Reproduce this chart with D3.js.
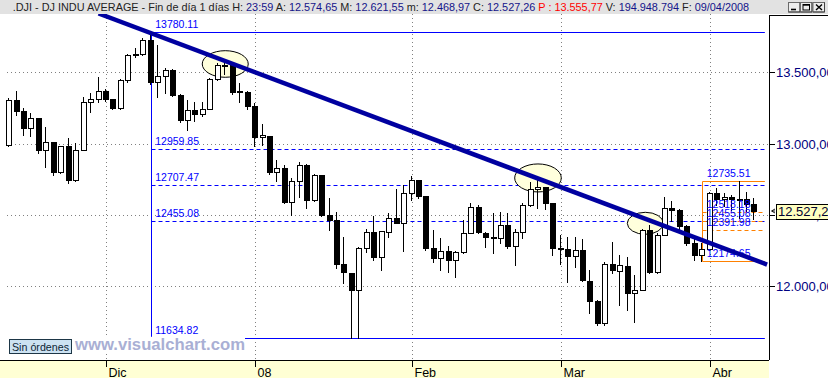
<!DOCTYPE html>
<html><head><meta charset="utf-8">
<script src="https://cdn.jsdelivr.net/npm/d3@7"></script>
<style>html,body{margin:0;padding:0;background:#fff;overflow:hidden}svg{display:block}text{font-family:"Liberation Sans",Arial,sans-serif}</style>
</head><body><svg id="c" width="828" height="378"></svg>
<script>
// ---------------- DATA ----------------
const dates = ["2007-11-13","2007-11-14","2007-11-15","2007-11-16","2007-11-19","2007-11-20","2007-11-21","2007-11-23","2007-11-26","2007-11-27","2007-11-28","2007-11-29","2007-11-30",
"2007-12-03","2007-12-04","2007-12-05","2007-12-06","2007-12-07","2007-12-10","2007-12-11","2007-12-12","2007-12-13","2007-12-14","2007-12-17","2007-12-18","2007-12-19","2007-12-20","2007-12-21","2007-12-24","2007-12-26","2007-12-27","2007-12-28","2007-12-31",
"2008-01-02","2008-01-03","2008-01-04","2008-01-07","2008-01-08","2008-01-09","2008-01-10","2008-01-11","2008-01-14","2008-01-15","2008-01-16","2008-01-17","2008-01-18","2008-01-22","2008-01-23","2008-01-24","2008-01-25","2008-01-28","2008-01-29","2008-01-30","2008-01-31",
"2008-02-01","2008-02-04","2008-02-05","2008-02-06","2008-02-07","2008-02-08","2008-02-11","2008-02-12","2008-02-13","2008-02-14","2008-02-15","2008-02-19","2008-02-20","2008-02-21","2008-02-22","2008-02-25","2008-02-26","2008-02-27","2008-02-28","2008-02-29",
"2008-03-03","2008-03-04","2008-03-05","2008-03-06","2008-03-07","2008-03-10","2008-03-11","2008-03-12","2008-03-13","2008-03-14","2008-03-17","2008-03-18","2008-03-19","2008-03-20","2008-03-24","2008-03-25","2008-03-26","2008-03-27","2008-03-28","2008-03-31",
"2008-04-01","2008-04-02","2008-04-03","2008-04-04","2008-04-07","2008-04-08","2008-04-09"];
const open  = [12987,13307,13231,13110,13176,12958,13010,12799,12980,12743,12958,13290,13314,
13371,13314,13248,13444,13619,13625,13727,13432,13473,13517,13339,13167,13232,13207,13245,13450,13549,13551,13359,13365,
13264,13043,13056,12800,12827,12589,12735,12853,12606,12778,12501,12466,12159,12092,11971,12270,12378,12207,12383,12480,12442,
12650,12743,12635,12265,12200,12247,12182,12240,12373,12552,12376,12348,12337,12427,12284,12381,12570,12684,12694,12582,
12266,12258,12213,12254,12040,11893,11740,12156,12110,12145,11951,11972,12392,12099,12361,12548,12532,12422,12302,12216,
12262,12654,12608,12626,12609,12612,12574.65];
const high  = [13316,13370,13250,13212,13180,13114,13010,12985,13037,13002,13324,13352,13465,
13380,13314,13450,13625,13668,13738,13780.11,13691,13528,13520,13345,13305,13290,13290,13460,13565,13575,13555,13422,13372,
13282,13137,13056,12884,12850,12760,12870,12855,12790,12780,12616,12520,12347,12095,12275,12399,12492,12390,12511,12680,12709,
12773,12745,12635,12394,12336,12282,12250,12464,12581,12570,12382,12511,12523,12511,12400,12581,12733,12756,12694,12582,
12359,12347,12347,12330,12114,11900,12170,12312,12219,12203,12078,12400,12430,12370,12628,12600,12540,12430,12330,12300,
12660,12690,12650,12640,12735.51,12660,12621.55];
const low   = [12980,13200,13060,13053,12936,12838,12780,12795,12721,12735,12955,13223,13293,
13300,13240,13240,13430,13610,13620,13420,13328,13352,13335,13153,13095,13160,13195,13240,13445,13490,13350,13293,13245,
12983,12990,12790,12740,12580,12499,12628,12546,12600,12495,12394,12126,12020,11634.82,11640,12242,12184,12114,12347,12440,12249,
12604,12620,12255,12172,12114,12102,12067,12235,12370,12370,12277,12231,12300,12270,12149,12336,12560,12546,12539,12219,
12156,12032,12137,12035,11810,11725,11730,12090,11868,11833,11751,11970,12090,12090,12360,12460,12400,12290,12185,12174.65,
12255,12570,12560,12534,12480,12530,12468.97];
const close = [13307.09,13231.01,13110.05,13176.79,12958.44,13010.14,12799.04,12980.88,12743.44,12958.44,13289.45,13311.73,13371.72,
13314.57,13248.73,13444.96,13619.89,13625.58,13727.03,13432.77,13473.90,13517.96,13339.85,13167.20,13232.47,13207.27,13245.64,13450.65,13549.33,13551.69,13359.61,13365.87,13264.82,
13043.96,13056.72,12800.18,12827.49,12589.07,12735.31,12853.09,12606.30,12778.15,12501.11,12466.16,12159.21,12099.30,11971.19,12270.17,12378.61,12207.17,12383.89,12480.30,12442.83,12650.36,
12743.19,12635.16,12265.13,12200.10,12247.00,12182.13,12240.01,12373.41,12552.24,12376.98,12348.21,12337.22,12427.26,12284.30,12381.02,12570.22,12684.92,12694.28,12582.18,12266.39,
12258.90,12213.80,12254.99,12040.39,11893.69,11740.15,12156.81,12110.24,12145.74,11951.09,11972.25,12392.66,12099.66,12361.32,12548.64,12532.60,12422.86,12302.46,12216.40,12262.89,
12654.36,12608.92,12626.03,12609.42,12612.43,12576.44,12527.26];

const monthTickDates  = ["2007-12-03","2008-01-02","2008-02-01","2008-03-03","2008-04-01"];
const monthTickLabels = ["Dic","08","Feb","Mar","Abr"];
const yTickValues = [12000,12500,13000,13500];

// Fibonacci tool 1 (Dec 11 high -> Jan 22 low)
const fib1Date = "2007-12-11";
const fib1Levels = [13780.11,12959.85,12707.47,12455.08,11634.82];
// Fibonacci tool 2 (Mar 31 low -> Apr 7 high)
const fib2Date = "2008-03-31";
const fib2Levels = [12735.51,12518.18,12455.08,12391.98,12174.65];
const fibEndIndex = 101.4;

// Trend line anchors [candle index, value]
const trendPoints = [[12, 13912], [101.7, 12152]];
// Ellipse highlights [candle index, value]
const ellipseCenters = [[29.0, 13558], [70.96, 12759], [85.36, 12441]];
const ellipseRadii = [[23, 13.3], [23.3, 14], [18, 11]];

const titleParts = [[".DJI - DJ INDU AVERAGE - Fin de día 1 días H: ","k"],["23:59","b"],[" A: ","k"],["12.574,65","b"],[" M: ","k"],["12.621,55","b"],[" m: ","k"],["12.468,97","b"],[" C: ","k"],["12.527,26","b"],[" P : 13.555,77","r"],[" V: ","k"],["194.948.794","b"],[" F: ","k"],["09/04/2008","b"]];

// ---------------- CHART ----------------
const svg = d3.select("#c");
const W = 828, H = 378, plotR = 769, plotT = 14, plotB = 360;
const n = dates.length;
const x = d3.scaleLinear().domain([0, n - 1]).range([9.11, 754.41]);
const y = d3.scaleLinear().domain([11634.82, 13780.11]).range([338.3, 32.3]);
const di = d => dates.indexOf(d);
const px = v => Math.round(v) + 0.5;
const loc = d3.formatLocale({decimal: ",", thousands: ".", grouping: [3]});
const fmt = loc.format(",.2f");

svg.append("rect").attr("width", W).attr("height", H).attr("fill", "#fff");
const defs = svg.append("defs");
defs.append("clipPath").attr("id", "clip").append("rect").attr("x", 0).attr("y", plotT).attr("width", plotR).attr("height", plotB - plotT);

const plot = svg.append("g").attr("clip-path", "url(#clip)");

// gridlines
plot.append("g").selectAll("line").data(yTickValues).join("line")
  .attr("x1", 7).attr("x2", plotR).attr("y1", d => px(y(d))).attr("y2", d => px(y(d)))
  .attr("stroke", "#808080").attr("stroke-dasharray", "1,3");
plot.append("g").selectAll("line").data(monthTickDates).join("line")
  .attr("x1", d => px(x(di(d)))).attr("x2", d => px(x(di(d))))
  .attr("y1", plotT).attr("y2", plotB)
  .attr("stroke", "#808080").attr("stroke-dasharray", "1,3");

// fib 1 lines
const f1x = x(di(fib1Date)), fEnd = x(fibEndIndex);
plot.append("line").attr("x1", px(f1x)).attr("x2", px(f1x))
  .attr("y1", y(fib1Levels[0])).attr("y2", y(fib1Levels[4]) - 1.5).attr("stroke", "#0000ff");
plot.append("g").selectAll("line").data(fib1Levels).join("line")
  .attr("x1", px(f1x)).attr("x2", fEnd)
  .attr("y1", d => px(y(d))).attr("y2", d => px(y(d)))
  .attr("stroke", "#0000ff")
  .attr("stroke-dasharray", (d, i) => (i === 0 || i === fib1Levels.length - 1) ? null : "4,3");

// fib 2 lines
const f2x = x(di(fib2Date));
plot.append("line").attr("x1", px(f2x)).attr("x2", px(f2x))
  .attr("y1", px(y(fib2Levels[0]))).attr("y2", px(y(fib2Levels[4]))).attr("stroke", "#ff8000");
plot.append("g").selectAll("line").data(fib2Levels).join("line")
  .attr("x1", px(f2x)).attr("x2", fEnd)
  .attr("y1", d => px(y(d))).attr("y2", d => px(y(d)))
  .attr("stroke", "#ff8000")
  .attr("stroke-dasharray", (d, i) => (i === 0 || i === fib2Levels.length - 1) ? null : "4,3");

// ellipses
plot.append("g").selectAll("ellipse").data(ellipseCenters).join("ellipse")
  .attr("cx", d => x(d[0])).attr("cy", d => y(d[1]))
  .attr("rx", (d, i) => ellipseRadii[i][0]).attr("ry", (d, i) => ellipseRadii[i][1])
  .attr("fill", "#ffffdc").attr("stroke", "#000").attr("stroke-width", 1);

// candles
const cg = plot.append("g");
const idx = d3.range(n);
cg.selectAll("line.w").data(idx).join("line").attr("class", "w")
  .attr("x1", i => Math.round(x(i)) - 0.5).attr("x2", i => Math.round(x(i)) - 0.5)
  .attr("y1", i => Math.round(y(high[i]))).attr("y2", i => Math.round(y(low[i])) + 1)
  .attr("stroke", "#000");
cg.selectAll("rect.b").data(idx).join("rect").attr("class", "b")
  .attr("x", i => Math.round(x(i)) - 3 + 0.5)
  .attr("width", 5)
  .attr("y", i => Math.round(y(Math.max(open[i], close[i]))) + 0.5)
  .attr("height", i => Math.max(1, Math.round(y(Math.min(open[i], close[i]))) - Math.round(y(Math.max(open[i], close[i])))))
  .attr("fill", i => close[i] >= open[i] ? "#fff" : "#000")
  .attr("stroke", "#000");

// fib labels
plot.append("g").selectAll("text").data(fib1Levels).join("text")
  .attr("x", f1x + 4.5).attr("y", d => y(d) - 4)
  .attr("font-size", 10.5).attr("fill", "#0000ff").text(d => d.toFixed(2));
plot.append("g").selectAll("text").data(fib2Levels).join("text")
  .attr("x", f2x + 4.5).attr("y", d => y(d) - 4.5)
  .attr("font-size", 10.5).attr("fill", "#0000ff").text(d => d.toFixed(2));

// trendline
plot.append("line")
  .attr("x1", x(trendPoints[0][0])).attr("y1", y(trendPoints[0][1]))
  .attr("x2", x(trendPoints[1][0])).attr("y2", y(trendPoints[1][1]))
  .attr("stroke", "#0000a0").attr("stroke-width", 4.5);

// watermark
svg.append("rect").attr("x", 74).attr("y", 337).attr("width", 171).attr("height", 15).attr("fill", "#fff");
svg.append("text").attr("x", 75).attr("y", 350).attr("font-size", 16.5).attr("font-weight", "bold")
  .attr("fill", "#a9afd4").attr("textLength", 170).attr("lengthAdjust", "spacingAndGlyphs")
  .text("www.visualchart.com");

// Sin órdenes box
svg.append("rect").attr("x", 9.5).attr("y", 339.5).attr("width", 62).attr("height", 14)
  .attr("fill", "#cce2f2").attr("stroke", "#1d3646");
svg.append("text").attr("x", 12).attr("y", 351).attr("font-size", 11).attr("fill", "#0d2535")
  .attr("textLength", 57).attr("lengthAdjust", "spacingAndGlyphs").text("Sin órdenes");

// bottom axis band
svg.append("rect").attr("x", 0).attr("y", plotB).attr("width", plotR).attr("height", H - plotB).attr("fill", "#ffffd4");
const xAxis = d3.axisBottom(x).tickValues(monthTickDates.map(di)).tickSize(7)
  .tickFormat((d, i) => monthTickLabels[i]);
const xg = svg.append("g").attr("transform", `translate(0,${plotB})`).call(xAxis);
xg.select(".domain").remove();
xg.selectAll(".tick").attr("transform", d => `translate(${px(x(d))},0)`);
xg.selectAll(".tick line").attr("stroke", "#000");
xg.selectAll(".tick text").attr("text-anchor", "start").attr("x", 2).attr("y", 16.5).attr("dy", null)
  .attr("font-size", 12.5).attr("fill", "#000").style("font-family", '"Liberation Sans",Arial,sans-serif');
svg.append("line").attr("x1", 0).attr("x2", plotR).attr("y1", plotB + 0.5).attr("y2", plotB + 0.5).attr("stroke", "#000");

// right axis
svg.append("line").attr("x1", plotR + 0.5).attr("x2", plotR + 0.5).attr("y1", 15).attr("y2", plotB).attr("stroke", "#000");
svg.append("line").attr("x1", plotR).attr("x2", W).attr("y1", 15.5).attr("y2", 15.5).attr("stroke", "#000");
const yAxis = d3.axisRight(y).tickValues(yTickValues).tickSize(6).tickPadding(1).tickFormat(fmt);
const yg = svg.append("g").attr("transform", `translate(${plotR},0)`).call(yAxis);
yg.select(".domain").remove();
yg.selectAll(".tick").attr("transform", d => `translate(0,${px(y(d))})`);
yg.selectAll(".tick line").attr("stroke", "#000");
yg.selectAll(".tick text").attr("font-size", 13).attr("fill", "#000080")
  .style("font-family", '"Liberation Sans",Arial,sans-serif').attr("dy", "0.36em");

// current price label (value truncated to one decimal, as the platform shows it)
const last = close[n - 1];
const ly = y(last);
svg.append("rect").attr("x", 776.5).attr("y", Math.round(ly - 7.5) + 0.5).attr("width", 60).attr("height", 15)
  .attr("fill", "#ffffc0").attr("stroke", "#000");
svg.append("text").attr("x", 778).attr("y", ly + 0.5).attr("dy", "0.36em").attr("font-size", 13).attr("fill", "#000030")
  .text(loc.format(",.1f")(Math.floor(last * 10) / 10));
svg.append("path").attr("d", `M775,${ly - 2} L771.5,${ly} L775,${ly + 2} M772,${ly} L775,${ly}`)
  .attr("fill", "none").attr("stroke", "#000").attr("stroke-width", 0.9);

// title bar
svg.append("rect").attr("x", 0).attr("y", 0).attr("width", W).attr("height", 14).attr("fill", "#e2e2e2");
const colors = {k: "#222222", b: "#14148a", r: "#ff0000"};
const title = svg.append("text").attr("x", 12.7).attr("y", 10.8).attr("font-size", 11).style("white-space", "pre");
title.selectAll("tspan").data(titleParts).join("tspan").attr("fill", d => colors[d[1]]).text(d => d[0]);
const tl = title.node().getComputedTextLength();
title.attr("font-size", 11 * 737 / tl);

// window buttons
const btnX = [788.5, 800.5, 813];
btnX.forEach((bx, k) => {
  svg.append("rect").attr("x", bx).attr("y", 2.5).attr("width", 11.5).attr("height", 9.5)
    .attr("fill", "#ececec").attr("stroke", "#6a6a6a");
  svg.append("line").attr("x1", bx + 11.5).attr("x2", bx + 11.5).attr("y1", 2.5).attr("y2", 12).attr("stroke", "#404040");
  svg.append("line").attr("x1", bx).attr("x2", bx + 11.5).attr("y1", 12).attr("y2", 12).attr("stroke", "#404040");
});
svg.append("line").attr("x1", 791).attr("x2", 796).attr("y1", 9.5).attr("y2", 9.5).attr("stroke", "#000").attr("stroke-width", 1.6);
svg.append("rect").attr("x", 803).attr("y", 4.5).attr("width", 6.5).attr("height", 5.5).attr("fill", "none").attr("stroke", "#000");
svg.append("line").attr("x1", 803).attr("x2", 809.5).attr("y1", 5).attr("y2", 5).attr("stroke", "#000").attr("stroke-width", 1.4);
svg.append("path").attr("d", "M816,4.5 L822,10 M822,4.5 L816,10").attr("stroke", "#000").attr("stroke-width", 1.4);
</script></body></html>
